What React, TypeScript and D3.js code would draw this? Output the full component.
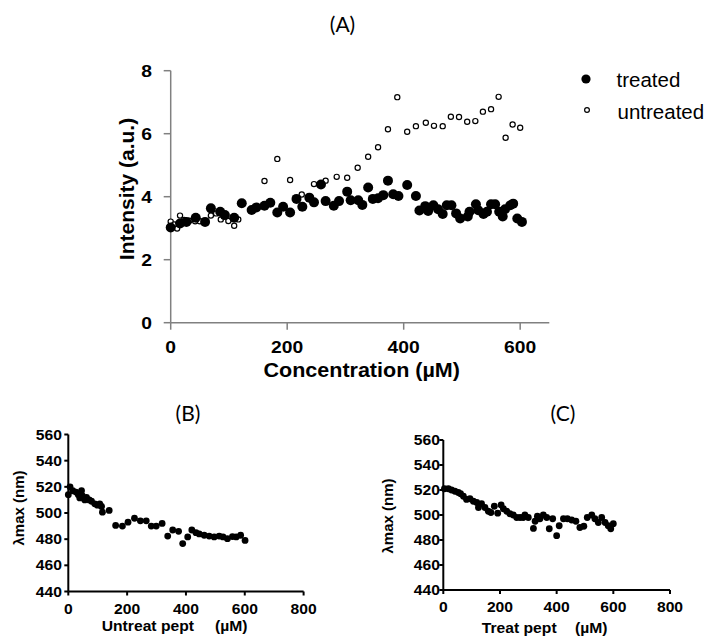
import React from "react";
import * as d3 from "d3";

// Panel A data
const treatedX = [0,16,27,43,59,69,85,93,109,122,139,147,161,171,183,193,205,216,226,238,246,258,266,280,289,303,309,322,329,339,347,356,365,373,382,391,406,421,427,437,442,451,459,467,474,482,490,497,510,513,524,528,537,543,550,557,564,570,574,583,588,595,603];
const treatedY = [3.02,3.15,3.2,3.33,3.2,3.63,3.52,3.42,3.33,3.79,3.58,3.66,3.71,3.81,3.5,3.68,3.5,3.93,3.68,3.97,3.82,4.39,3.86,3.71,3.86,4.16,3.89,3.89,3.74,4.29,3.93,3.95,4.05,4.51,4.08,4.02,4.37,4.02,3.56,3.70,3.55,3.73,3.6,3.45,3.73,3.73,3.47,3.31,3.37,3.52,3.76,3.57,3.45,3.52,3.76,3.76,3.52,3.37,3.6,3.73,3.78,3.31,3.2];
const untreatedX = [0,6,11,16,23,32,42,50,60,69,78,86,91,99,109,116,161,183,205,225,246,266,285,303,321,339,356,373,389,406,421,438,452,467,481,495,509,523,536,550,563,575,587,600];
const untreatedY = [3.21,3.12,2.99,3.4,3.26,3.24,3.22,3.22,3.17,3.4,3.47,3.28,3.37,3.23,3.08,3.28,4.5,5.2,4.53,4.07,4.4,4.51,4.63,4.6,4.92,5.27,5.57,6.14,7.16,6.06,6.24,6.35,6.25,6.24,6.54,6.53,6.38,6.4,6.7,6.78,7.17,5.87,6.29,6.19];
const aXTicks = [0,200,400,600];
const aYTicks = [0,2,4,6,8];

// Panel B data
const bX = [0,6,15,26,34,39,45,48,56,62,71,79,90,99,107,113,116,139,161,184,203,225,245,265,282,299,319,338,355,375,389,406,420,434,445,462,479,496,513,526,541,558,571,586,601];
const bY = [514,520,517,516,514,511.5,517,513,510,512,510,509,507,506,507,505,500.6,502,490.5,490,493,496,494,494,490,490,492,482.4,487,486,476.6,481.7,487,485,484,483,482.4,481.7,482.4,481.7,480.4,482,481.7,483,479];

// Panel C data
const cX = [4,18,29,41,53,61,71,82,94,106,118,124,135,147,159,168,180,192,204,212,224,235,247,259,271,282,288,300,318,324,332,341,353,365,374,386,400,409,424,438,453,468,482,496,508,524,535,547,559,571,582,591,600];
const cY = [521,521,520,519,518,517,515,512.5,513,511,510,506,509,506,503,502,507,501.5,508,505,503,501,500,498,498,498,500,498,489.3,495,499,497,500,498,489,497,483.5,491.4,497,497,496,495,490,491,498,500,497,494,498,494,491.4,489,493];
const bcXTicks = [0,200,400,600,800];
const bcYTicks = [440,460,480,500,520,540,560];

const ARIAL = "'Liberation Sans', Arial, sans-serif";
const TITLE = "Lato, 'Open Sans', sans-serif";

function T({ x, y, anchor = "start", size, sx = 1, weight = "bold", family = ARIAL, children }: any) {
  return (
    <text
      transform={`translate(${x},${y}) scale(${sx},1)`}
      textAnchor={anchor}
      fontSize={size}
      fontWeight={weight}
      fontFamily={family}
      fill="#000"
    >
      {children}
    </text>
  );
}

function SmallPanel({ xs, ys, x0, x1, y0, y1, title, titleX, xlab, unitX, ylabX, ylabY, xTickBase, yLabRight, labBase }: any) {
  const x = d3.scaleLinear().domain([0, 800]).range([x0, x1]);
  const y = d3.scaleLinear().domain([440, 560]).range([y0, y1]);
  return (
    <g>
      <T x={titleX} y={421} anchor="middle" size={21} weight="normal" family={TITLE}>{title}</T>
      {xs.map((v: number, i: number) => (
        <circle key={i} cx={x(v)} cy={y(ys[i])} r={3.4} fill="#000" />
      ))}
      <line x1={x0} x2={x1} y1={y0} y2={y0} stroke="#000" strokeWidth={2} />
      <line x1={x0} x2={x0} y1={y0} y2={y1} stroke="#000" strokeWidth={2} />
      {bcXTicks.map((t) => (
        <g key={t}>
          <line x1={x(t)} x2={x(t)} y1={y0} y2={y0 + 4} stroke="#000" strokeWidth={2} />
          <T x={x(t)} y={xTickBase} anchor="middle" size={14} sx={1.12}>{t}</T>
        </g>
      ))}
      {bcYTicks.map((t) => (
        <g key={t}>
          <line x1={x0 - 4} x2={x0} y1={y(t)} y2={y(t)} stroke="#000" strokeWidth={2} />
          <T x={yLabRight} y={y(t) + 5} anchor="end" size={14} sx={1.12}>{t}</T>
        </g>
      ))}
      <T x={xlab[0]} y={labBase} size={14} sx={1.12}>{xlab[1]}</T>
      <T x={unitX} y={labBase} size={14} sx={1.12}>(µM)</T>
      <text
        transform={`translate(${ylabX},${ylabY}) rotate(-90)`}
        textAnchor="middle"
        fontSize={15}
        fontWeight="bold"
        fontFamily={ARIAL}
      >
        λmax (nm)
      </text>
    </g>
  );
}

export default function App() {
  const ax = d3.scaleLinear().domain([0, 650]).range([170.7, 549.3]);
  const ay = d3.scaleLinear().domain([0, 8]).range([322.7, 70.7]);
  const axisCol = "#808080";
  return (
    <svg width={710} height={637} style={{ position: "absolute", left: 0, top: 0, background: "#fff" }}>
      <rect width={710} height={637} fill="#fff" />
      {/* Panel A */}
      <T x={342.5} y={32} anchor="middle" size={21} weight="normal" family={TITLE}>(A)</T>
      <line x1={ax(0)} x2={ax(650)} y1={ay(0)} y2={ay(0)} stroke={axisCol} strokeWidth={1.5} />
      <line x1={ax(0)} x2={ax(0)} y1={ay(0)} y2={ay(8)} stroke={axisCol} strokeWidth={1.5} />
      {aXTicks.map((t) => (
        <g key={t}>
          <line x1={ax(t)} x2={ax(t)} y1={ay(0)} y2={ay(0) + 7} stroke={axisCol} strokeWidth={1.5} />
          <T x={ax(t)} y={353} anchor="middle" size={16.5} sx={1.17}>{t}</T>
        </g>
      ))}
      {aYTicks.map((t) => (
        <g key={t}>
          <line x1={ax(0) - 7} x2={ax(0)} y1={ay(t)} y2={ay(t)} stroke={axisCol} strokeWidth={1.5} />
          <T x={152} y={ay(t) + 6} anchor="end" size={16.5} sx={1.17}>{t}</T>
        </g>
      ))}
      {untreatedX.map((v, i) => (
        <circle key={"u" + i} cx={ax(v)} cy={ay(untreatedY[i])} r={2.6} fill="#fff" stroke="#000" strokeWidth={1.2} />
      ))}
      {treatedX.map((v, i) => (
        <circle key={"t" + i} cx={ax(v)} cy={ay(treatedY[i])} r={5} fill="#000" />
      ))}
      <T x={361.7} y={377} anchor="middle" size={20.5} sx={1.05}>Concentration (µM)</T>
      <text
        transform={`translate(133.5,189) rotate(-90)`}
        textAnchor="middle"
        fontSize={21}
        fontWeight="bold"
        fontFamily={ARIAL}
      >
        Intensity (a.u.)
      </text>
      {/* Legend */}
      <circle cx={586} cy={79} r={4.6} fill="#000" />
      <T x={616.5} y={87} size={20.5} weight="normal">treated</T>
      <circle cx={587} cy={110} r={2.4} fill="#fff" stroke="#000" strokeWidth={1.2} />
      <T x={617.5} y={119} size={20.5} weight="normal">untreated</T>

      <SmallPanel
        xs={bX} ys={bY}
        x0={68.3} x1={303.6} y0={591.5} y1={434.5}
        title="(B)" titleX={188}
        xlab={[101.7, "Untreat pept"]} unitX={215}
        ylabX={24} ylabY={508}
        xTickBase={614} yLabRight={62} labBase={631}
      />
      <SmallPanel
        xs={cX} ys={cY}
        x0={443.3} x1={670} y0={590} y1={440}
        title="(C)" titleX={563}
        xlab={[481.7, "Treat pept"]} unitX={575}
        ylabX={393} ylabY={516}
        xTickBase={612} yLabRight={440} labBase={632.5}
      />
    </svg>
  );
}
